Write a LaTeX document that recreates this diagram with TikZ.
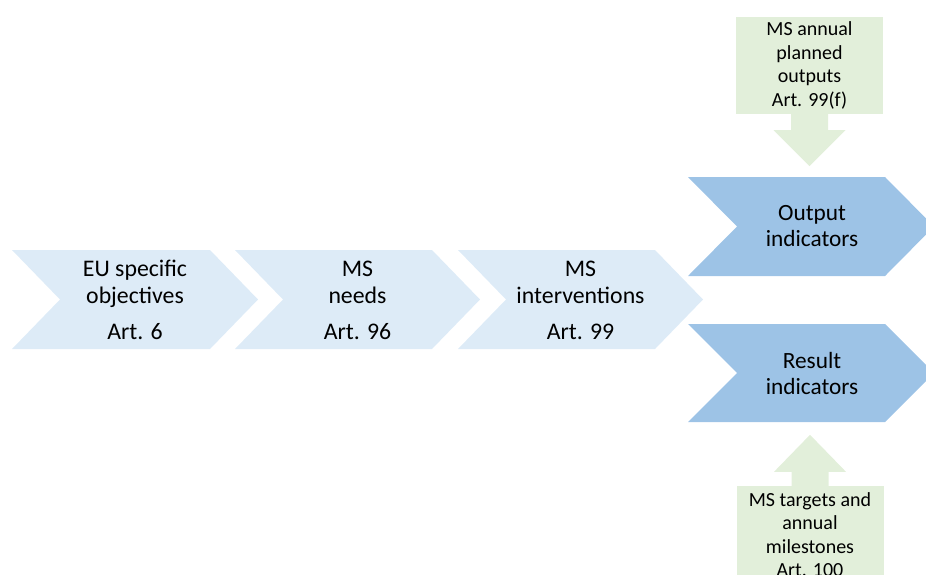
\documentclass[tikz,border=0pt]{standalone}
\usepackage{fontspec}
\setmainfont{Carlito}
\definecolor{lightchev}{HTML}{DDEBF7}
\definecolor{darkchev}{HTML}{9DC3E6}
\definecolor{greenbox}{HTML}{E2EFDA}

\begin{document}
\begin{tikzpicture}[x=1pt,y=-1pt,
	steptext/.style={align=center,inner sep=0,font=\fontsize{23.8}{27}\selectfont},
	indtext/.style={align=center,inner sep=0,font=\fontsize{23.3}{26}\selectfont},
	notebox/.style={fill=greenbox,align=center,inner sep=0,minimum width=147pt,minimum height=97pt,font=\fontsize{20}{23.5}\selectfont}]
	\clip (0,0) rectangle (926,574);
	% light chevrons
	\fill[lightchev] (12,250) -- (210,250) -- (258,299.5) -- (210,349) -- (12,349) -- (60,299.5) -- cycle;
	\fill[lightchev] (235,250) -- (432,250) -- (480,299.5) -- (432,349) -- (235,349) -- (283,299.5) -- cycle;
	\fill[lightchev] (458,250) -- (655,250) -- (703,299.5) -- (655,349) -- (458,349) -- (506,299.5) -- cycle;
	\node[steptext] (objectives) at (135,300) {EU specific\\objectives\\[9pt]Art. 6};
	\node[steptext] (needs) at (357.5,300) {MS\\needs\\[9pt]Art. 96};
	\node[steptext] (interventions) at (580.5,300) {MS\\interventions\\[9pt]Art. 99};
	% dark chevrons
	\fill[darkchev] (688,177) -- (885,177) -- (934,226.5) -- (885,276) -- (688,276) -- (737,226.5) -- cycle;
	\fill[darkchev] (688,324) -- (885,324) -- (934,373) -- (885,422) -- (688,422) -- (737,373) -- cycle;
	\node[indtext] (output) at (812,226.5) {Output\\indicators};
	\node[indtext] (result) at (812,373) {Result\\indicators};
	% green boxes and block arrows
	\node[notebox] (planned) at (809.5,65.5) {MS annual\\planned\\outputs\\Art. 99(f)};
	\fill[greenbox] ([xshift=-18.5pt]planned.south) -- ++(0,16) -- ++(-17.5,0) -- ++(36,36) -- ++(36,-36) -- ++(-17.5,0) -- ++(0,-16) -- cycle;
	\node[notebox] (targets) at (810,534.5) {MS targets and\\annual\\milestones\\Art. 100};
	\fill[greenbox] ([xshift=-18.5pt]targets.north) -- ++(0,-14) -- ++(-17.5,0) -- ++(36,-37) -- ++(36,37) -- ++(-17.5,0) -- ++(0,14) -- cycle;
\end{tikzpicture}
\end{document}
